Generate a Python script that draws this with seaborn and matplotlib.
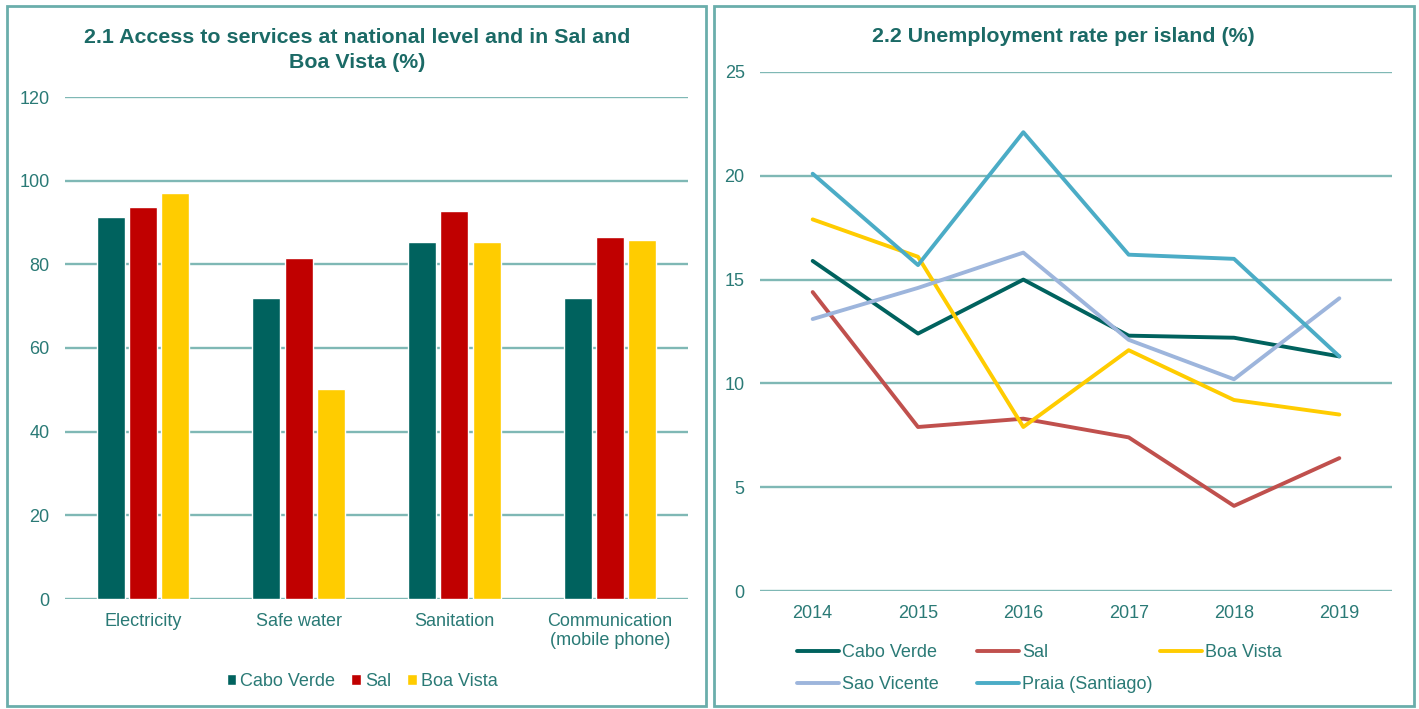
import numpy as np
import pandas as pd
import seaborn as sns
import matplotlib.pyplot as plt
from matplotlib.patches import Rectangle

# --- data -----------------------------------------------------------------
services = ['Electricity', 'Safe water', 'Sanitation', 'Communication\n(mobile phone)']
areas = ['Cabo Verde', 'Sal', 'Boa Vista']
cabo_verde_access = [91.4, 71.9, 85.3, 71.9]
sal_access = [93.8, 81.6, 92.8, 86.6]
boa_vista_access = [97.1, 50.3, 85.3, 85.8]

years = [2014, 2015, 2016, 2017, 2018, 2019]
islands = ['Cabo Verde', 'Sal', 'Boa Vista', 'Sao Vicente', 'Praia (Santiago)']
unemp_cabo_verde = [15.9, 12.4, 15.0, 12.3, 12.2, 11.3]
unemp_sal = [14.4, 7.9, 8.3, 7.4, 4.1, 6.4]
unemp_boa_vista = [17.9, 16.1, 7.9, 11.6, 9.2, 8.5]
unemp_sao_vicente = [13.1, 14.6, 16.3, 12.1, 10.2, 14.1]
unemp_praia = [20.1, 15.7, 22.1, 16.2, 16.0, 11.3]

# --- styles ---------------------------------------------------------------
TEXT = '#2a7a76'
TITLE = '#1b6a66'
GRID = '#7fb8b5'
FRAME = '#6aaeab'
FS = 13
bar_colors = ['#00625e', '#c00000', '#ffcc00']
line_colors = ['#00625e', '#c0504d', '#ffcc00', '#9db5dc', '#4bacc6']

sns.set_theme(style='white')
plt.rcParams['font.family'] = ['Liberation Sans', 'DejaVu Sans']

W, H = 1419, 709
fig = plt.figure(figsize=(W / 100, H / 100), dpi=100)


def px_axes(x0, x1, ytop, ybot):
    return fig.add_axes([x0 / W, (H - ybot) / H, (x1 - x0) / W, (ybot - ytop) / H])


# panel frames
fig.patches.append(Rectangle((7 / W, 3 / H), 699 / W, 700 / H, transform=fig.transFigure,
                             fill=False, edgecolor=FRAME, lw=2))
fig.patches.append(Rectangle((714 / W, 3 / H), 700 / W, 700 / H, transform=fig.transFigure,
                             fill=False, edgecolor=FRAME, lw=2))

# --- 2.1 bar chart --------------------------------------------------------
bars = pd.DataFrame({
    'service': np.repeat(services, 3),
    'area': areas * len(services),
    'value': np.ravel(np.column_stack([cabo_verde_access, sal_access, boa_vista_access])),
})
ax1 = px_axes(65, 688, 97, 599)
sns.barplot(data=bars, x='service', y='value', hue='area', hue_order=areas,
            palette=bar_colors, width=0.62, gap=0.13, saturation=1, ax=ax1)
ax1.set_ylim(0, 120)
ax1.set_yticks(range(0, 121, 20))
ax1.yaxis.grid(True, color=GRID, lw=1.7)
ax1.set_axisbelow(True)
sns.despine(ax=ax1, left=True, bottom=True)
ax1.set_xlabel('')
ax1.set_ylabel('')
ax1.tick_params(axis='both', length=0, labelsize=FS, labelcolor=TEXT)
ax1.tick_params(axis='y', pad=11)
ax1.tick_params(axis='x', pad=10)
for t in ax1.get_xticklabels():
    t.set_linespacing(1.15)
ax1.legend(loc='center', bbox_to_anchor=(362 / W, (H - 681) / H), bbox_transform=fig.transFigure,
           ncol=3, frameon=False, fontsize=FS, labelcolor=TEXT, handlelength=0.55,
           handleheight=0.55, handletextpad=0.2, columnspacing=0.9)
fig.text(357 / W, (H - 50) / H, '2.1 Access to services at national level and in Sal and\nBoa Vista (%)',
         ha='center', va='center', color=TITLE, fontsize=15.4, fontweight='bold', linespacing=1.35)

# --- 2.2 line chart -------------------------------------------------------
lines = pd.DataFrame({
    'year': years * len(islands),
    'island': np.repeat(islands, len(years)),
    'rate': unemp_cabo_verde + unemp_sal + unemp_boa_vista + unemp_sao_vicente + unemp_praia,
})
ax2 = px_axes(760, 1392, 72, 591)
sns.lineplot(data=lines, x='year', y='rate', hue='island', hue_order=islands,
             palette=line_colors, lw=2.8, ax=ax2, legend=True)
ax2.set_xlim(2013.5, 2019.5)
ax2.set_xticks(years)
ax2.set_ylim(0, 25)
ax2.set_yticks(range(0, 26, 5))
ax2.yaxis.grid(True, color=GRID, lw=1.7)
ax2.set_axisbelow(True)
sns.despine(ax=ax2, left=True, bottom=True)
ax2.set_xlabel('')
ax2.set_ylabel('')
ax2.tick_params(axis='both', length=0, labelsize=FS, labelcolor=TEXT)
ax2.tick_params(axis='y', pad=11)
ax2.tick_params(axis='x', pad=10)

# legend laid out row by row, Excel style: one small legend per column
handles, labels = ax2.get_legend_handles_labels()
ax2.get_legend().remove()
lookup = dict(zip(labels, handles))
columns = [(797, ['Cabo Verde', 'Sao Vicente']),
           (977, ['Sal', 'Praia (Santiago)']),
           (1160, ['Boa Vista'])]
for x0, names in columns:
    fig.legend([lookup[n] for n in names], names, loc='upper left',
               bbox_to_anchor=(x0 / W, (H - 644) / H), bbox_transform=fig.transFigure,
               frameon=False, fontsize=FS, labelcolor=TEXT, handlelength=2.3,
               handletextpad=0.2, labelspacing=0.85, borderpad=0, borderaxespad=0)

fig.text(1063 / W, (H - 37) / H, '2.2 Unemployment rate per island (%)',
         ha='center', va='center', color=TITLE, fontsize=15.4, fontweight='bold')

fig.savefig('out.png', dpi=100)
